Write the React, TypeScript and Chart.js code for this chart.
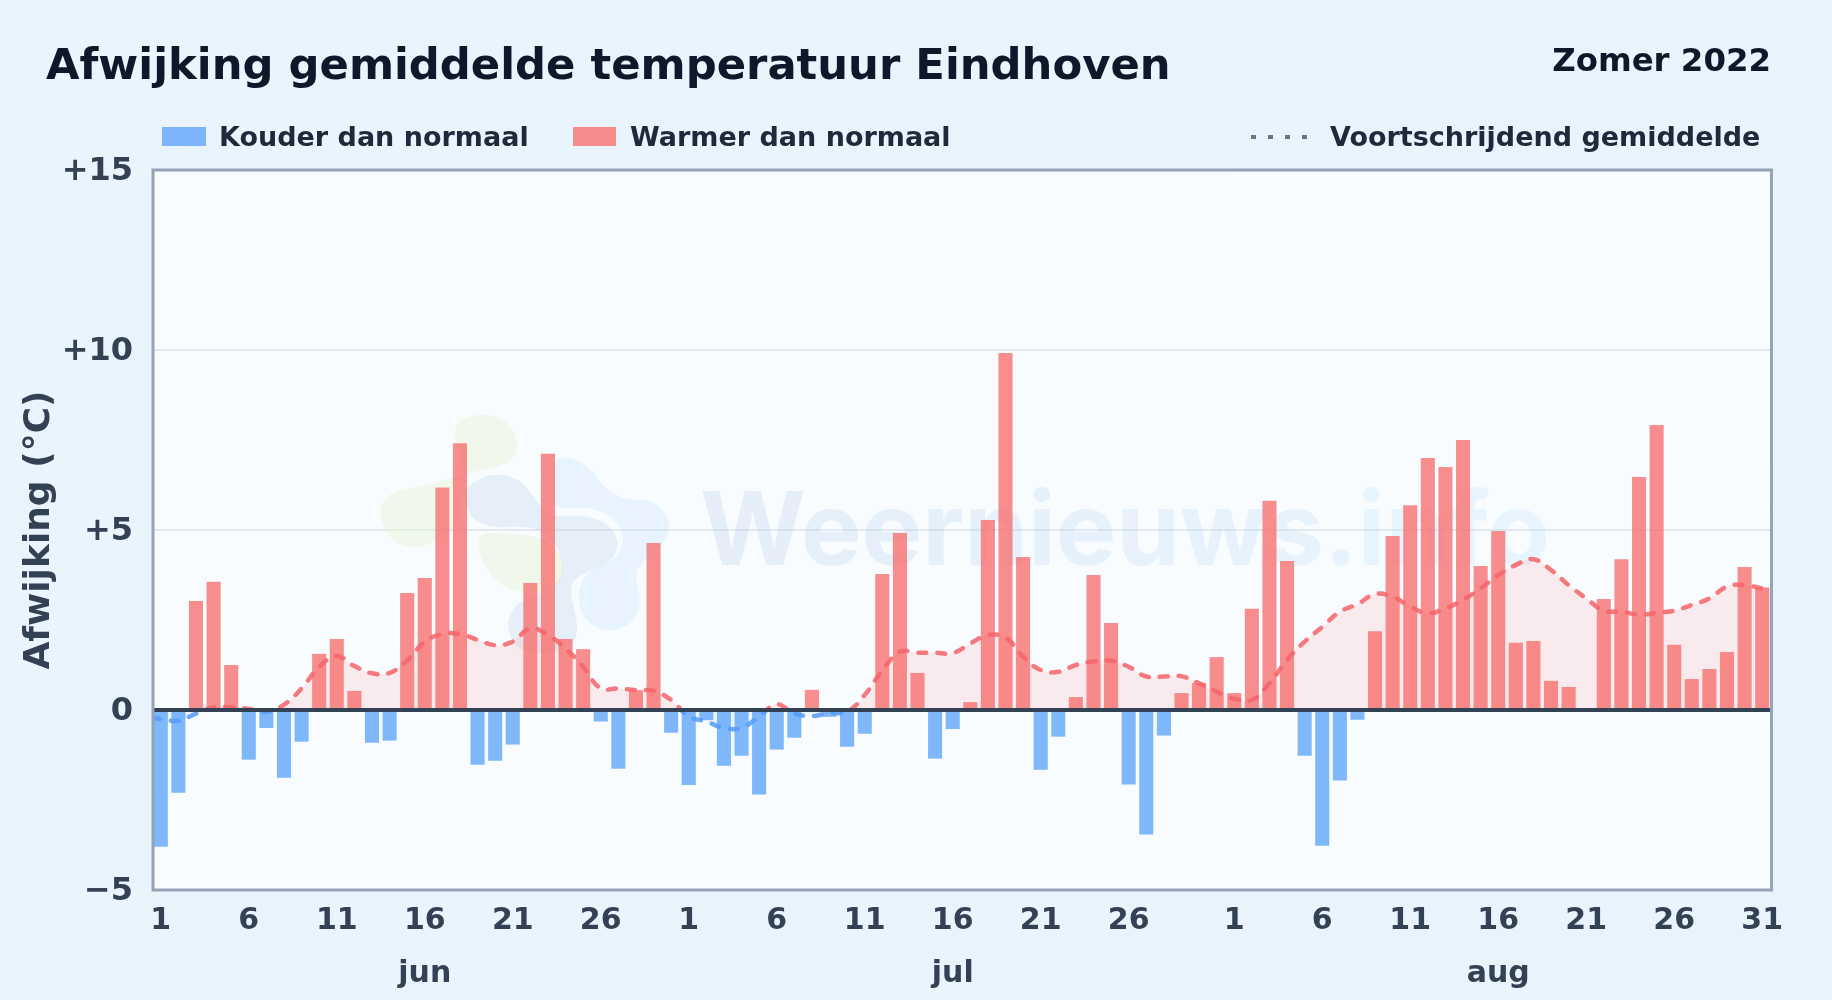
import React, { useEffect, useRef } from "react";
import { Chart, registerables } from "chart.js";

Chart.register(...registerables);

const juneValues = [-3.8, -2.3, 3.03, 3.56, 1.25, -1.38, -0.5, -1.88, -0.88, 1.56, 1.97, 0.53, -0.91, -0.85, 3.25, 3.67, 6.18, 7.41, -1.52, -1.41, -0.96, 3.53, 7.12, 1.97, 1.69, -0.32, -1.63, 0.55, 4.64, -0.63];
const julyValues = [-2.08, -0.28, -1.55, -1.27, -2.35, -1.1, -0.77, 0.56, -0.19, -1.02, -0.66, 3.78, 4.92, 1.03, -1.35, -0.53, 0.22, 5.28, 9.92, 4.25, -1.66, -0.74, 0.36, 3.75, 2.42, -2.07, -3.46, -0.71, 0.47, 0.75, 1.47];
const augustValues = [0.47, 2.81, 5.81, 4.14, -1.27, -3.77, -1.96, -0.27, 2.19, 4.83, 5.69, 7.0, 6.75, 7.5, 4.0, 4.97, 1.87, 1.92, 0.81, 0.64, 0, 3.08, 4.19, 6.47, 7.92, 1.81, 0.86, 1.14, 1.61, 3.97, 3.4];
const movingAverage = [-0.25, -0.3, -0.1, 0.07, 0.08, 0.03, -0.05, 0.15, 0.6, 1.2, 1.5, 1.22, 1.02, 1.03, 1.38, 1.9, 2.11, 2.11, 1.95, 1.8, 1.9, 2.27, 2.08, 1.71, 1.2, 0.6, 0.6, 0.55, 0.53, 0.28,
  -0.18, -0.32, -0.5, -0.5, -0.18, 0.16, -0.1, -0.17, -0.08, -0.05, 0.42, 1.1, 1.62, 1.59, 1.59, 1.58, 1.85, 2.08, 2.02, 1.48, 1.11, 1.06, 1.25, 1.35, 1.37, 1.2, 0.93, 0.93, 0.94, 0.74, 0.51,
  0.31, 0.28, 0.74, 1.39, 1.9, 2.31, 2.73, 2.94, 3.22, 3.15, 2.87, 2.69, 2.82, 3.06, 3.38, 3.75, 4.03, 4.19, 3.89, 3.47, 3.1, 2.76, 2.73, 2.65, 2.7, 2.76, 2.92, 3.1, 3.43, 3.47, 3.38];
const lineEdgeStart = -0.22;
const lineEdgeEnd = 3.36;
const months = ["jun", "jul", "aug"];
const monthLengths = [juneValues.length, julyValues.length, augustValues.length];
const tickDays = [
  [1, 6, 11, 16, 21, 26],
  [1, 6, 11, 16, 21, 26],
  [1, 6, 11, 16, 21, 26, 31],
];
const monthLabelDay = 16;
const yTicks = [-5, 0, 5, 10, 15];
const titleText = "Afwijking gemiddelde temperatuur Eindhoven";
const subtitleText = "Zomer 2022";
const legendCold = "Kouder dan normaal";
const legendWarm = "Warmer dan normaal";
const legendAvg = "Voortschrijdend gemiddelde";
const yTitle = "Afwijking (°C)";
const watermark = "Weernieuws.info";

const values = [...juneValues, ...julyValues, ...augustValues];
const monthStart = monthLengths.map((_, m) => monthLengths.slice(0, m).reduce((a, b) => a + b, 0));
const tickLabelByPos = new Map<number, string | string[]>();
tickDays.forEach((days, m) =>
  days.forEach((d) =>
    tickLabelByPos.set(monthStart[m] + d, d === monthLabelDay ? [String(d), months[m]] : String(d)),
  ),
);

const FONT = "'DejaVu Sans', sans-serif";
const WARM = "rgba(248,113,113,0.8)";
const COLD = "rgba(96,165,250,0.8)";

const blobs: { c: string; p: number[][] }[] = [
  { c: "rgba(226,243,205,0.4)", p: [[270,105],[350,68],[445,90],[480,170],[445,225],[340,245],[250,270],[190,290],[85,305],[55,370],[85,445],[150,478],[215,460],[265,420],[300,400],[300,330],[320,250]] },
  { c: "rgba(226,243,205,0.4)", p: [[340,432],[430,428],[530,438],[595,478],[615,530],[595,595],[520,615],[440,595],[375,540]] },
  { c: "rgba(191,225,254,0.3)", p: [[535,238],[610,195],[685,225],[735,298],[795,330],[885,330],[938,400],[905,475],[835,525],[825,560],[845,640],[815,705],[740,728],[675,695],[650,620],[675,548],[755,518],[795,460],[775,392],[700,352],[600,357],[565,330]] },
  { c: "rgba(170,195,225,0.22)", p: [[320,285],[400,248],[485,268],[525,330],[575,382],[680,375],[755,408],[780,470],[745,525],[665,550],[625,590],[655,700],[645,765],[560,795],[478,785],[435,710],[465,638],[548,608],[606,570],[606,492],[556,422],[480,408],[400,414],[335,388],[315,340]] },
];

const framePlugin = {
  id: "frame",
  beforeDraw(chart: any) {
    const { ctx, chartArea: a } = chart;
    ctx.save();
    ctx.fillStyle = "#f8fcff";
    ctx.fillRect(a.left, a.top, a.right - a.left, a.bottom - a.top);
    ctx.restore();
  },
  beforeDatasetsDraw(chart: any) {
    const { ctx } = chart;
    ctx.save();
    for (const b of blobs) {
      const pts = b.p.map(([x, y]) => [360 + x / 3, 390 + y / 3]);
      ctx.fillStyle = b.c;
      ctx.beginPath();
      const n = pts.length;
      ctx.moveTo((pts[n - 1][0] + pts[0][0]) / 2, (pts[n - 1][1] + pts[0][1]) / 2);
      for (let i = 0; i < n; i++) {
        const q = pts[(i + 1) % n];
        ctx.quadraticCurveTo(pts[i][0], pts[i][1], (pts[i][0] + q[0]) / 2, (pts[i][1] + q[1]) / 2);
      }
      ctx.closePath();
      ctx.fill();
    }
    const g = ctx.createLinearGradient(703, 0, 1547, 0);
    g.addColorStop(0, "rgba(170,195,225,0.24)");
    g.addColorStop(1, "rgba(191,225,254,0.28)");
    ctx.fillStyle = g;
    ctx.font = "700 102px Inter, sans-serif";
    ctx.textBaseline = "alphabetic";
    ctx.fillText(watermark, 700, 565);
    ctx.restore();
  },
  afterDatasetsDraw(chart: any) {
    const { ctx, chartArea: a, scales } = chart;
    const y0 = scales.y.getPixelForValue(0);
    ctx.save();
    ctx.strokeStyle = "#334155";
    ctx.lineWidth = 4;
    ctx.beginPath();
    ctx.moveTo(a.left, y0);
    ctx.lineTo(a.right, y0);
    ctx.stroke();
    ctx.strokeStyle = "#94a3b8";
    ctx.lineWidth = 3;
    ctx.strokeRect(a.left + 1, a.top, a.right - a.left - 0.5, a.bottom - a.top);
    ctx.restore();
  },
};

function App() {
  const ref = useRef<HTMLCanvasElement>(null);
  useEffect(() => {
    document.body.style.margin = "0";
    const points = values.map((y, i) => ({ x: i + 1, y }));
    const lineData = [
      { x: 0.5, y: lineEdgeStart },
      ...movingAverage.map((y, i) => ({ x: i + 1, y })),
      { x: values.length + 0.5, y: lineEdgeEnd },
    ];
    const chart = new Chart(ref.current as HTMLCanvasElement, {
      type: "bar",
      data: {
        datasets: [
          { label: legendCold, data: points.filter((p) => p.y < 0), backgroundColor: COLD, order: 2 },
          { label: legendWarm, data: points.filter((p) => p.y > 0), backgroundColor: WARM, order: 2 },
          {
            type: "line",
            label: legendAvg,
            data: lineData,
            order: 1,
            pointRadius: 0,
            tension: 0.4,
            borderWidth: 4.5,
            borderDash: [8, 11],
            borderCapStyle: "round",
            fill: { target: "origin", above: "rgba(248,113,113,0.13)", below: "rgba(96,165,250,0.08)" },
            borderColor: (c: any) => {
              const { chart: ch } = c;
              if (!ch.chartArea) return "#f87171";
              const y0 = ch.scales.y.getPixelForValue(0);
              const t = (y0 - ch.chartArea.top) / (ch.chartArea.bottom - ch.chartArea.top);
              const g = ch.ctx.createLinearGradient(0, ch.chartArea.top, 0, ch.chartArea.bottom);
              g.addColorStop(0, "rgba(244,100,105,0.85)");
              g.addColorStop(t, "rgba(244,100,105,0.85)");
              g.addColorStop(t, "rgba(85,155,250,0.85)");
              g.addColorStop(1, "rgba(85,155,250,0.85)");
              return g;
            },
          } as any,
        ],
      },
      options: {
        responsive: false,
        animation: false,
        layout: { padding: { left: 0, right: 61, top: 170, bottom: 0 } },
        datasets: { bar: { grouped: false, categoryPercentage: 1, barPercentage: 0.8 } },
        plugins: { legend: { display: false }, title: { display: false }, tooltip: { enabled: false } },
        scales: {
          x: {
            type: "linear",
            offset: false,
            min: 0.5,
            max: values.length + 0.5,
            grid: { display: false, drawTicks: false },
            border: { display: false },
            afterFit: (s: any) => { s.height = 110; },
            afterBuildTicks: (s: any) => {
              s.ticks = [...tickLabelByPos.keys()].map((value) => ({ value }));
            },
            ticks: {
              autoSkip: false,
              maxRotation: 0,
              minRotation: 0,
              padding: 5,
              color: "#334155",
              font: { family: FONT, size: 30, weight: "bold", lineHeight: 1.77 },
              callback: (v: any) => tickLabelByPos.get(v) ?? "",
            },
          },
          y: {
            min: -5,
            max: 15,
            afterFit: (s: any) => { s.width = 152; },
            afterBuildTicks: (s: any) => { s.ticks = yTicks.map((value) => ({ value })); },
            border: { display: false },
            grid: { color: "#e2e8f0", lineWidth: 2, drawTicks: false },
            ticks: {
              padding: 19,
              labelOffset: 2,
              color: "#334155",
              font: { family: FONT, size: 32, weight: "bold" },
              callback: (v: any) => (v > 0 ? `+${v}` : v < 0 ? `\u2212${-v}` : "0"),
            },
            title: {
              display: true,
              text: yTitle,
              color: "#334155",
              font: { family: FONT, size: 36, weight: "bold" },
              padding: { top: 18, bottom: 0 },
            },
          },
        },
      } as any,
      plugins: [framePlugin],
    });
    return () => chart.destroy();
  }, []);

  const text = (style: React.CSSProperties): React.CSSProperties => ({
    position: "absolute",
    fontFamily: FONT,
    fontWeight: 700,
    whiteSpace: "nowrap",
    lineHeight: 1,
    ...style,
  });
  const legendStyle: React.CSSProperties = { fontSize: 27, color: "#1e293b", top: 123 };
  return (
    <div style={{ position: "relative", width: 1832, height: 1000, overflow: "hidden", background: "linear-gradient(135deg,#eaf4fd 0%,#e8f3fc 100%)" }}>
      <canvas ref={ref} width={1832} height={1000} style={{ position: "absolute", left: 0, top: 0, width: 1832, height: 1000 }} />
      <div style={text({ left: 46, top: 43, fontSize: 43.3, color: "#0f172a" })}>{titleText}</div>
      <div style={text({ right: 61, top: 44, fontSize: 32.4, color: "#0f172a" })}>{subtitleText}</div>
      <div style={{ position: "absolute", left: 162, top: 127, width: 44, height: 19, background: COLD }} />
      <div style={text({ ...legendStyle, left: 219 })}>{legendCold}</div>
      <div style={{ position: "absolute", left: 573, top: 127, width: 43, height: 19, background: WARM }} />
      <div style={text({ ...legendStyle, left: 630 })}>{legendWarm}</div>
      {[0, 1, 2, 3].map((i) => (
        <div key={i} style={{ position: "absolute", left: 1251 + i * 17, top: 135, width: 5, height: 4, background: "#64748b" }} />
      ))}
      <div style={text({ ...legendStyle, left: 1330 })}>{legendAvg}</div>
    </div>
  );
}

export default App;
